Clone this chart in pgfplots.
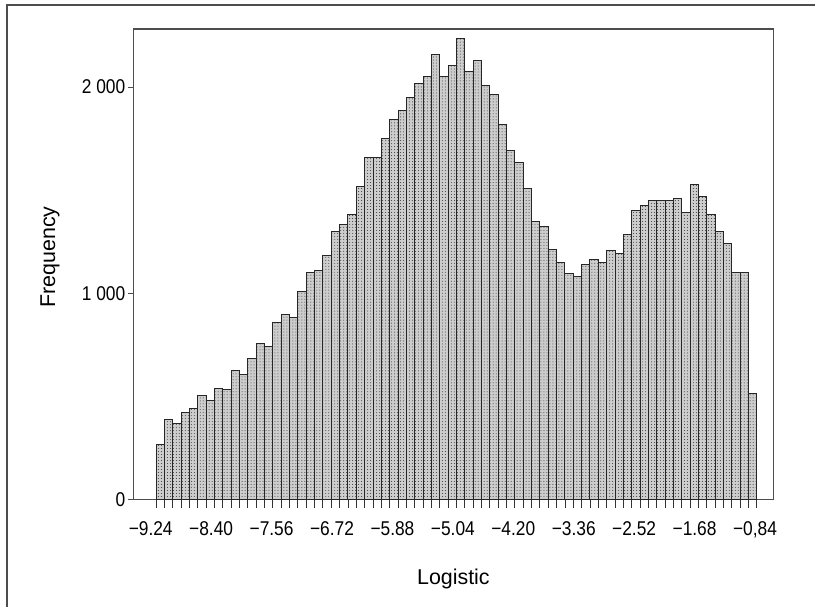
\documentclass[border=0pt]{standalone}
\usepackage{pgfplots}
\pgfplotsset{compat=1.18}
\usetikzlibrary{patterns}
\usepackage{fontspec}
\setmainfont{Liberation Sans}

\definecolor{axisgray}{HTML}{4D4D4D}
\definecolor{barfill}{HTML}{CDCDCD}
\definecolor{bardraw}{HTML}{262626}

\begin{document}
\begin{tikzpicture}
\begin{axis}[
    at={(0,0)}, anchor=south west,
    scale only axis,
    width=640.2bp, height=470.5bp,
    xmin=-9.482, xmax=-0.583,
    ymin=0, ymax=2282,
    ybar, bar width=0.116,
    axis line style={draw=axisgray, line width=1.5bp},
    xtick={-9.24,-8.40,-7.56,-6.72,-5.88,-5.04,-4.20,-3.36,-2.52,-1.68,-0.84},
    xticklabels={−9.24,−8.40,−7.56,−6.72,−5.88,−5.04,−4.20,−3.36,−2.52,−1.68,{−0,84}},
    minor xtick={-9.166,-9.050,...,-0.80},
    ytick={0,1000,2000},
    yticklabels={0,1 000,2 000},
    xtick pos=left, ytick pos=left,
    tick align=outside,
    major tick length=5bp,
    minor tick length=8bp,
    major x tick style={draw=none},
    minor x tick style={draw=black!80, line width=0.9bp},
    major y tick style={draw=axisgray, line width=1bp},
    xticklabel style={font=\fontsize{20}{20}\selectfont, xscale=0.87, anchor=base, yshift=-31bp},
    yticklabel style={font=\fontsize{20}{20}\selectfont, xscale=0.87, anchor=east},
    xlabel={Logistic},
    ylabel={Frequency},
    xlabel style={font=\fontsize{21.5}{21.5}\selectfont, at={(rel axis cs:0.5,-0.1817)}, anchor=base},
    ylabel style={font=\fontsize{21.5}{21.5}\selectfont, at={(rel axis cs:-0.1223,0.5154)}, anchor=base, rotate=0},
]
\addplot[ybar, bar width=0.116, bar shift=0pt, fill=barfill, draw=bardraw, line width=1bp,
    postaction={pattern=dots, pattern color=black!80}] coordinates {
(-9.108,269) (-8.992,386) (-8.876,370) (-8.760,421) (-8.644,442) (-8.528,502)
(-8.412,478) (-8.296,538) (-8.180,535) (-8.064,628) (-7.948,604) (-7.832,685)
(-7.716,755) (-7.600,742) (-7.484,860) (-7.368,895) (-7.252,882) (-7.136,1008)
(-7.020,1102) (-6.904,1113) (-6.788,1183) (-6.672,1299) (-6.556,1336) (-6.440,1380)
(-6.324,1520) (-6.208,1660) (-6.092,1660) (-5.976,1751) (-5.860,1844) (-5.744,1889)
(-5.628,1948) (-5.512,2019) (-5.396,2051) (-5.280,2156) (-5.164,2051) (-5.048,2107)
(-4.932,2234) (-4.816,2075) (-4.700,2131) (-4.584,2008) (-4.468,1962) (-4.352,1817)
(-4.236,1692) (-4.120,1634) (-4.004,1509) (-3.888,1347) (-3.772,1323) (-3.656,1211)
(-3.540,1149) (-3.424,1094) (-3.308,1081) (-3.192,1138) (-3.076,1162) (-2.960,1151)
(-2.844,1207) (-2.728,1194) (-2.612,1286) (-2.496,1401) (-2.380,1425) (-2.264,1449)
(-2.148,1449) (-2.032,1449) (-1.916,1461) (-1.800,1392) (-1.684,1530) (-1.568,1472)
(-1.452,1380) (-1.336,1299) (-1.220,1240) (-1.104,1100) (-0.988,1100) (-0.872,516)
};
\end{axis}
\draw[axisgray, line width=1.5bp] (-126.3bp,-130bp) -- (-126.3bp,494.5bp) -- (720bp,494.5bp);
\pgfresetboundingbox
\path[use as bounding box] (-133.3bp,-107.5bp) rectangle (681.7bp,499.5bp);
\end{tikzpicture}
\end{document}
